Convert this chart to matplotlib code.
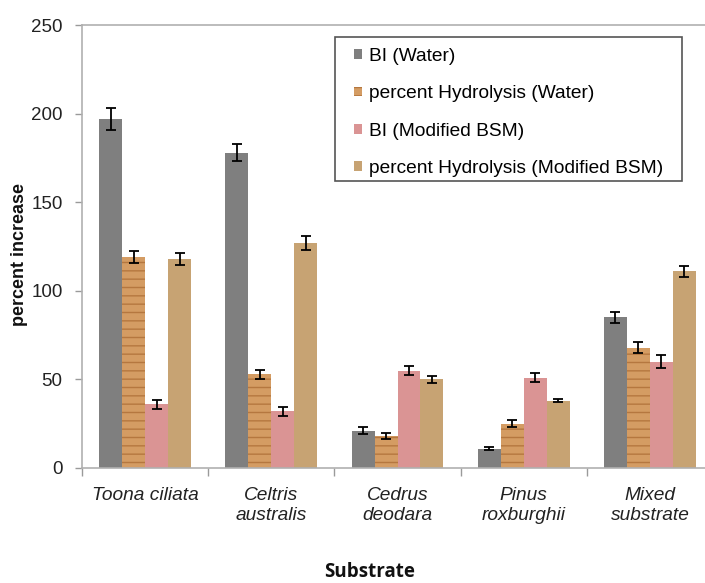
import matplotlib
matplotlib.use("Agg")
import matplotlib.pyplot as plt
from matplotlib.patches import Rectangle
import numpy as np

categories = ["Toona ciliata", "Celtris\naustralis", "Cedrus\ndeodara", "Pinus\nroxburghii", "Mixed\nsubstrate"]
series_names = ["BI (Water)", "percent Hydrolysis (Water)", "BI (Modified BSM)", "percent Hydrolysis (Modified BSM)"]
bi_water = [197, 178, 21, 11, 85]
hyd_water = [119, 53, 18, 25, 68]
bi_bsm = [36, 32, 55, 51, 60]
hyd_bsm = [118, 127, 50, 38, 111]
err_bi_water = [6, 4.8, 2, 1, 3]
err_hyd_water = [3.5, 2.5, 1.8, 2, 3]
err_bi_bsm = [2.5, 2.5, 2.5, 2.5, 3.5]
err_hyd_bsm = [3.5, 4.2, 2, 1, 3]
y_ticks = [0, 50, 100, 150, 200, 250]

values = [bi_water, hyd_water, bi_bsm, hyd_bsm]
errors = [err_bi_water, err_hyd_water, err_bi_bsm, err_hyd_bsm]
colors = ["#7F7F7F", "#D49C63", "#DA9494", "#C7A373"]
hatches = [None, "--", None, None]
hatch_cols = ["#7F7F7F", "#B5773F", "#DA9494", "#C7A373"]

plt.rcParams['font.family'] = ['Liberation Sans', 'DejaVu Sans']
plt.rcParams['hatch.linewidth'] = 1.0

W, H = 705, 583
fig = plt.figure(figsize=(W/100, H/100), dpi=100)
ax = fig.add_axes([82/W, 1 - 468/H, 5*126.2/W, (468-25)/H])

x = np.arange(len(categories))
w = 0.182
for i, (vals, errs) in enumerate(zip(values, errors)):
    pos = x + (i - 1.5) * w
    ax.bar(pos, vals, width=w, color=colors[i], hatch=hatches[i],
           edgecolor=hatch_cols[i], linewidth=0, label=series_names[i], zorder=2)
    ax.errorbar(pos, vals, yerr=errs, fmt='none', ecolor='black',
                elinewidth=1.3, capsize=3.5, capthick=1.3, zorder=3)

ax.set_xlim(-0.5, len(categories) - 0.5)
ax.set_ylim(0, 250)
ax.set_yticks(y_ticks)
ax.tick_params(axis='y', labelsize=13.5, colors='#9a9a9a', labelcolor='#222222',
               length=5, width=1, pad=9)
ax.set_xticks(x)
ax.set_xticklabels(categories, fontsize=13.8, style='italic', color='#222222')
ax.tick_params(axis='x', length=0, pad=14)
ax.set_xticks(np.arange(len(categories)) - 0.5, minor=True)
ax.tick_params(axis='x', which='minor', length=6, colors='#9a9a9a', width=1)
for s in ['left', 'bottom', 'top', 'right']:
    ax.spines[s].set_color('#b0b0b0')
    ax.spines[s].set_linewidth(1.2)

fig.text(20/W, 1 - 255/H, "percent increase", rotation=90, fontsize=13,
         fontweight='bold', ha='center', va='center', color='#111111')
fig.text(370/W, 1 - 572/H, "Substrate", fontsize=13.5, fontweight='bold',
         ha='center', va='center', color='#111111', family=['Open Sans', 'DejaVu Sans'])

# legend frame
fig.patches.append(Rectangle((335/W, 1 - 181/H), (682-335)/W, (181-37)/H,
                             transform=fig.transFigure, facecolor='white',
                             edgecolor='#555555', linewidth=1.2, zorder=4))
leg = fig.legend(loc='upper left', bbox_to_anchor=(354/W, 1 - 48/H),
                 fontsize=13.8, frameon=False,
                 handlelength=0.4, handleheight=0.4, handletextpad=0.38,
                 labelspacing=1.06, borderpad=0, borderaxespad=0)
leg.set_zorder(5)

fig.savefig("out.png", dpi=100)
